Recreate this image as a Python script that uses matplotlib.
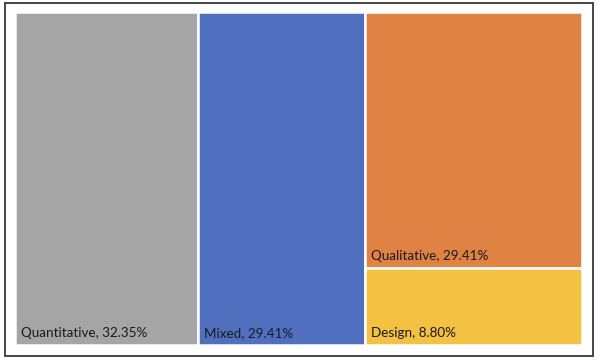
import matplotlib
matplotlib.use('Agg')
import matplotlib.pyplot as plt
from matplotlib.patches import Rectangle

categories = ['Quantitative', 'Mixed', 'Qualitative', 'Design']
shares = [32.35, 29.41, 29.41, 8.80]
colors = ['#A5A5A5', '#5070BF', '#E08244', '#F4C142']

W, H = 600, 362
fig = plt.figure(figsize=(W / 100, H / 100), dpi=100)

# outer frame
fig.patches.append(Rectangle((5 / W, 1 - 356 / H), 588 / W, 353 / H,
                             transform=fig.transFigure, fill=False,
                             edgecolor='#454545', linewidth=1.4))

ax = fig.add_axes([15 / W, 1 - 345 / H, 567 / W, 333 / H])
ax.set_xlim(0, sum(shares))
ax.set_ylim(1, 0)
ax.axis('off')

# first two categories get full-height columns, the rest share the last column
rects = []
x = 0
for s in shares[:2]:
    rects.append((x, 0, s, 1))
    x += s
rest = shares[2:]
col_w = sum(rest)
y = 0
for s in rest:
    h = s / col_w
    rects.append((x, y, col_w, h))
    y += h

for (rx, ry, rw, rh), name, val, c in zip(rects, categories, shares, colors):
    ax.add_patch(Rectangle((rx, ry), rw, rh, facecolor=c,
                           edgecolor='white', linewidth=1.8))
    ax.annotate(f'{name}, {val:.2f}%', xy=(rx, ry + rh), xytext=(6, 8),
                textcoords='offset pixels', ha='left', va='baseline',
                fontsize=9.7, color='#1a1a1a', family='Lato')

fig.savefig('out.png', dpi=100)
